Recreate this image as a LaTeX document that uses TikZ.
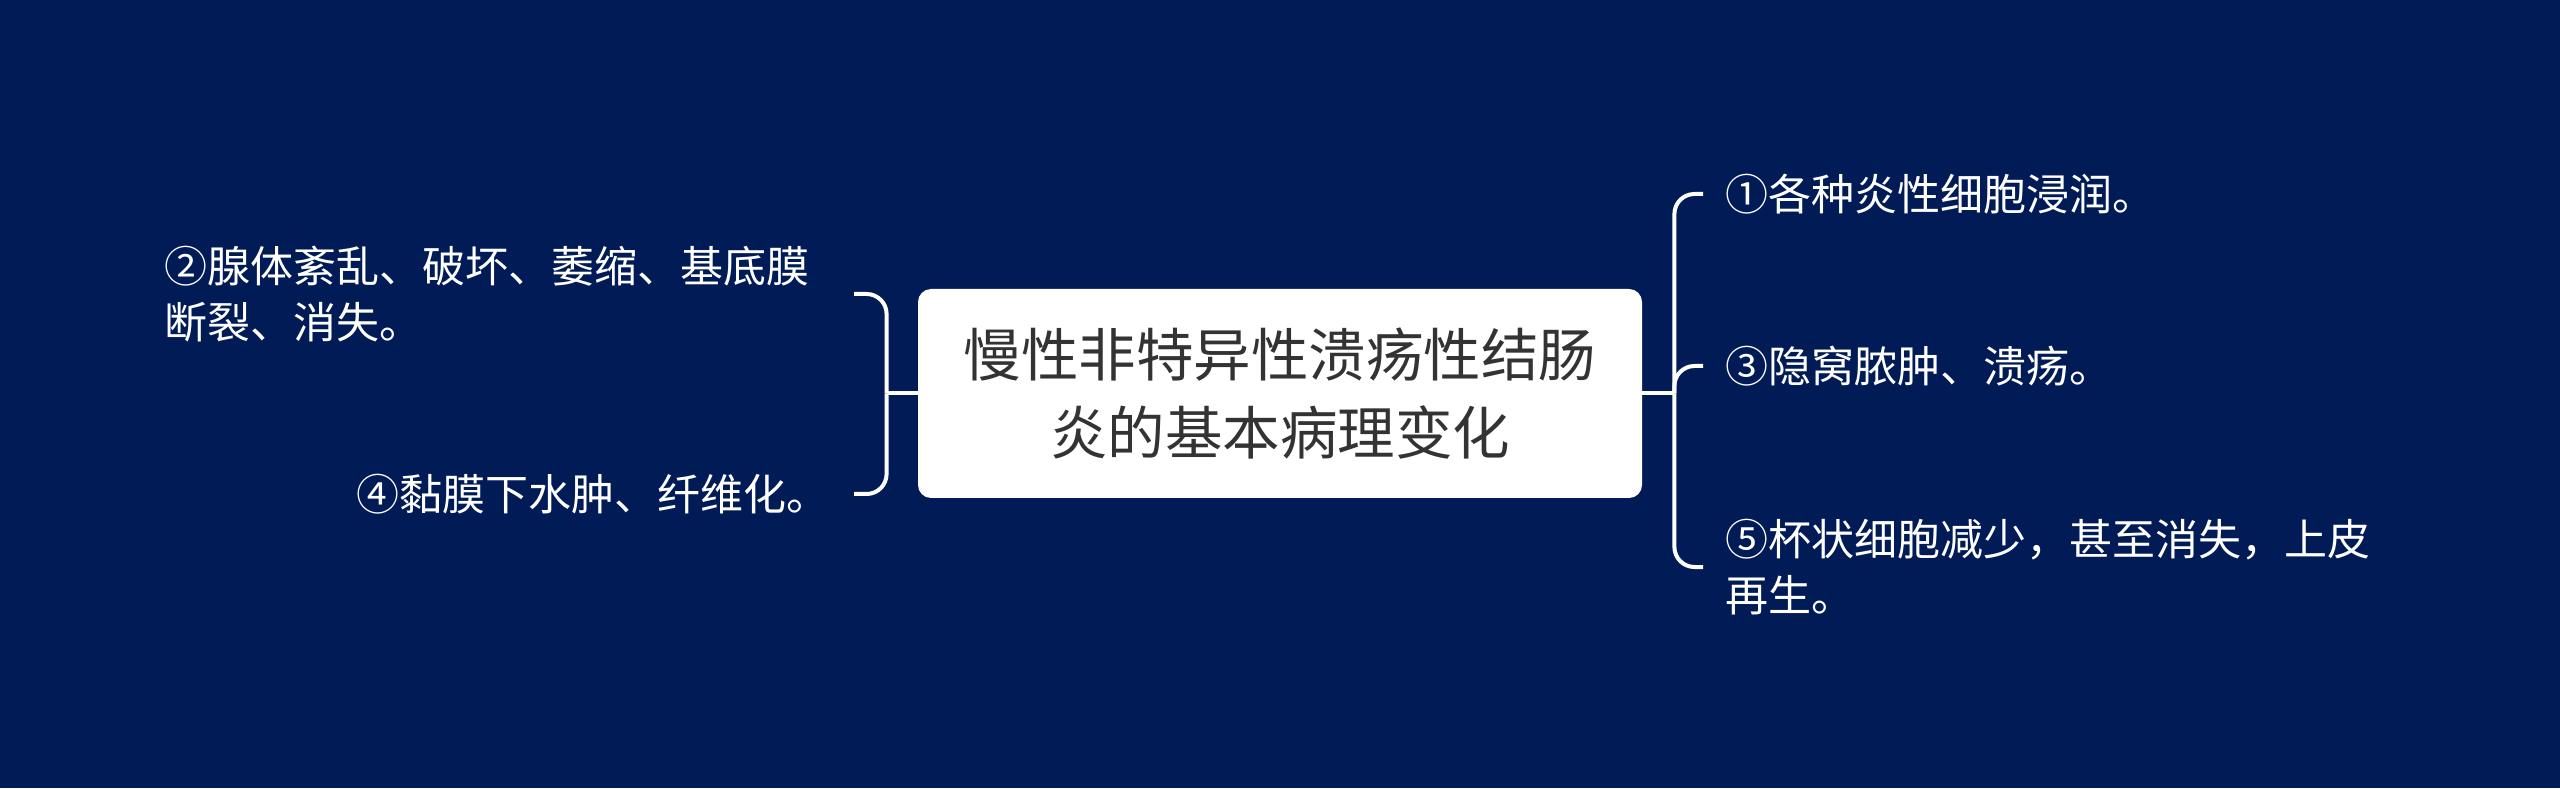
\documentclass[tikz,border=0pt]{standalone}
\usepackage{fontspec}
\setmainfont{Noto Sans CJK SC}
\usetikzlibrary{positioning}
\definecolor{navybg}{RGB}{1,27,87}
\definecolor{titlegray}{RGB}{51,51,51}

\begin{document}
\begin{tikzpicture}[x=0.5pt,y=0.5pt,
  topic/.style={fill=white,rounded corners=6.5pt,minimum width=362pt,minimum height=104.5pt,
    align=center,text=titlegray,font=\fontsize{28.75pt}{39pt}\selectfont},
  item/.style={inner sep=0pt,align=left,text=white,font=\fontsize{21.5pt}{28pt}\selectfont},
  branch/.style={draw=white,line width=2pt,rounded corners=10pt}]
\fill[navybg] (0,0) rectangle (2560,788);
% centre topic
\node[topic] (title) at (1280,394.5) {慢性非特异性溃疡性结肠\\炎的基本病理变化};
% left items
\node[item,anchor=east] (n2) at (810,494) {②腺体紊乱、破坏、萎缩、基底膜\\断裂、消失。};
\node[item,anchor=east] (n4) at (830,294) {④黏膜下水肿、纤维化。};
% right items
\node[item,anchor=west] (n1) at (1725,594) {①各种炎性细胞浸润。};
\node[item,anchor=west] (n3) at (1725,422) {③隐窝脓肿、溃疡。};
\node[item,anchor=west] (n5) at (1725,221) {⑤杯状细胞减少，甚至消失，上皮\\再生。};
\coordinate (jl) at ([xshift=-15.5pt]title.west);
\coordinate (jr) at ([xshift=16pt]title.east);
\draw[branch] (title.west) -- (jl);
\draw[branch] (title.east) -- (jr);
\draw[branch] (jl) |- ([xshift=22pt]n2.east);
\draw[branch] (jl) |- ([xshift=12pt]n4.east);
\draw[branch] (jr) |- ([xshift=-11pt]n1.west);
\draw[branch] (jr) |- ([xshift=-11pt]n3.west);
\draw[branch] (jr) |- ([xshift=-11pt]n5.west);
\end{tikzpicture}
\end{document}
